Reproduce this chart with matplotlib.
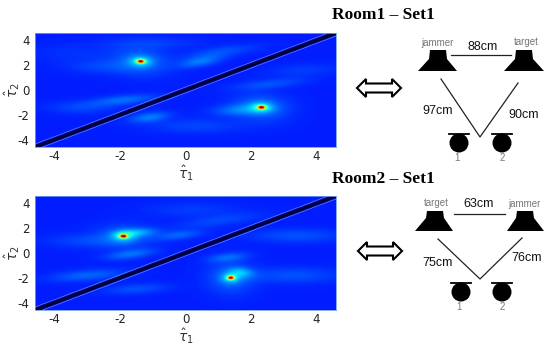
import matplotlib
matplotlib.use("Agg")
import matplotlib.pyplot as plt
import numpy as np
from matplotlib.patches import Circle, Polygon

W, H = 550, 346
ticks = [-4, -2, 0, 2, 4]
lim = 4.6
background = 0.155

# blobs: x, y, height, sigma x, sigma y, tilt (deg)
room1_blobs = [
    (-1.37, 2.32, 0.72, 0.08, 0.10, 5),
    (-1.37, 2.32, 0.14, 0.24, 0.30, 5),
    (-1.37, 2.32, 0.07, 0.60, 0.80, 10),
    (2.33, -1.40, 0.72, 0.08, 0.10, 5),
    (2.33, -1.40, 0.14, 0.24, 0.30, 5),
    (2.33, -1.40, 0.07, 0.60, 0.80, 10),
    (0.45, 2.30, 0.09, 0.50, 0.26, 30),
    (1.10, 3.10, 0.05, 0.80, 0.28, 20),
    (-1.90, -0.80, 0.08, 0.70, 0.26, 15),
    (-1.10, -2.20, 0.09, 0.45, 0.26, 25),
    (1.70, -1.60, 0.08, 0.60, 0.32, 10),
    (2.60, 0.50, 0.05, 0.80, 0.26, 15),
    (-2.50, 1.90, 0.04, 0.80, 0.40, 0),
    (-3.20, -1.40, 0.04, 0.70, 0.35, 0),
    (3.60, 1.60, 0.03, 0.80, 0.35, 10),
    (0.30, -2.90, 0.04, 1.00, 0.40, 0),
    (-1.00, 3.80, 0.03, 1.00, 0.35, 0),
    (-3.40, 3.00, 0.02, 1.00, 0.50, 0),
]
room2_blobs = [
    (-1.90, 1.36, 0.72, 0.08, 0.10, 0),
    (-1.90, 1.36, 0.14, 0.24, 0.30, 0),
    (-1.90, 1.36, 0.06, 0.60, 0.70, 0),
    (1.39, -2.00, 0.72, 0.07, 0.10, 0),
    (1.39, -2.00, 0.14, 0.20, 0.30, 0),
    (1.39, -2.00, 0.07, 0.50, 0.90, 0),
    (-1.50, 1.65, 0.11, 0.42, 0.24, 10),
    (1.72, -1.55, 0.10, 0.22, 0.30, 35),
    (-0.20, 1.45, 0.07, 0.50, 0.24, 20),
    (-1.70, -0.10, 0.08, 0.55, 0.24, 20),
    (-3.00, -1.80, 0.07, 0.80, 0.30, 12),
    (-1.50, -2.90, 0.05, 0.70, 0.28, 10),
    (1.30, -0.35, 0.07, 0.45, 0.24, 20),
    (3.40, 1.40, 0.05, 1.00, 0.38, 0),
    (-3.00, 1.00, 0.04, 0.90, 0.40, 0),
    (3.30, -1.80, 0.05, 1.00, 0.45, 0),
    (0.20, 3.50, 0.03, 1.00, 0.45, 0),
    (1.00, 2.60, 0.04, 1.00, 0.30, 20),
]


def make_field(blobs):
    grid = np.linspace(-lim, lim, 500)
    xx, yy = np.meshgrid(grid, grid)
    z = np.full(xx.shape, background)
    for x0, y0, h, sx, sy, tilt in blobs:
        t = np.deg2rad(tilt)
        u = (xx - x0) * np.cos(t) + (yy - y0) * np.sin(t)
        v = -(xx - x0) * np.sin(t) + (yy - y0) * np.cos(t)
        z += h * np.exp(-0.5 * (u / sx) ** 2 - 0.5 * (v / sy) ** 2)
    return z


def heat_panel(fig, box, blobs):
    x0, y0, x1, y1 = box
    ax = fig.add_axes([x0 / W, 1 - y1 / H, (x1 - x0) / W, (y1 - y0) / H])
    ax.imshow(make_field(blobs), cmap="jet", vmin=0, vmax=1, origin="lower",
              extent=[-lim, lim, -lim, lim], aspect="auto", interpolation="bilinear")
    diag = np.array([-lim, lim])
    ax.plot(diag, diag + 0.24, color="#8fb8f0", lw=0.5, ls=(0, (1, 0.6)))
    ax.plot(diag, diag - 0.24, color="#8fb8f0", lw=0.5, ls=(0, (1, 0.6)))
    ax.plot(diag, diag, color="#00003c", lw=2.7, solid_capstyle="butt")
    ax.set_xlim(-lim, lim)
    ax.set_ylim(-lim, lim)
    ax.set_xticks(ticks)
    ax.set_yticks(ticks)
    ax.set_xticklabels([str(t) for t in ticks])
    ax.set_yticklabels([str(t) for t in ticks])
    ax.tick_params(length=0, labelsize=8.5, colors="#222222")
    ax.tick_params(axis="x", pad=2)
    ax.tick_params(axis="y", pad=4)
    for s in ax.spines.values():
        s.set_color("#6f9fee")
        s.set_linewidth(0.6)
    ax.set_xlabel(r"$\hat{\tau}_1$", fontsize=10, labelpad=0.5, color="#333333")
    ax.set_ylabel(r"$\hat{\tau}_2$", fontsize=10, labelpad=-3, color="#333333")
    return ax


def speaker(ov, left, right, tl, tr, top, neck, bottom):
    ov.add_patch(Polygon([(tl, top), (tr, top), (tr + 1, neck), (right, bottom), (left, bottom), (tl - 1, neck)],
                         closed=True, color="black", lw=0))


def mic(ov, cx, cy, r, bar_l, bar_r, bar_y):
    ov.add_patch(Circle((cx, cy), r, color="black", lw=0))
    ov.plot([bar_l, bar_r], [bar_y, bar_y], color="black", lw=1.3)


def arrow(ov, x0, x1, y):
    pts = [(x0, y), (x0 + 9, y - 9), (x0 + 9, y - 4.5), (x1 - 9, y - 4.5), (x1 - 9, y - 9), (x1, y),
           (x1 - 9, y + 9), (x1 - 9, y + 4.5), (x0 + 9, y + 4.5), (x0 + 9, y + 9)]
    ov.add_patch(Polygon(pts, closed=True, facecolor="white", edgecolor="black", lw=1.5))


fig = plt.figure(figsize=(W / 100, H / 100), dpi=100, facecolor="white")
heat_panel(fig, (35, 33, 336, 147), room1_blobs)
heat_panel(fig, (35, 196, 336, 310), room2_blobs)

ov = fig.add_axes([0, 0, 1, 1])
ov.set_xlim(0, W)
ov.set_ylim(H, 0)
ov.axis("off")
ov.patch.set_alpha(0)

serif = "Liberation Serif"
ov.text(383, 15, "Room1 – Set1", family=serif, weight="bold", fontsize=12.5, ha="center", va="center")
ov.text(383, 179, "Room2 – Set1", family=serif, weight="bold", fontsize=12.5, ha="center", va="center")

sans = "Liberation Sans"
grey = "#777777"

# room 1 layout
speaker(ov, 418, 457, 430, 446, 50, 59, 71)
speaker(ov, 504, 544, 516, 532, 50, 59, 71)
ov.plot([451, 511], [55, 55], color="#222222", lw=0.9)
ov.plot([441, 480, 518], [79, 137, 83], color="#222222", lw=0.9)
mic(ov, 459, 143, 9.5, 449, 469, 134)
mic(ov, 502, 143, 9.5, 492, 512, 134)
arrow(ov, 357, 401, 88)
for x, y, s in [(483, 47, "88cm"), (438, 111, "97cm"), (524, 115, "90cm")]:
    ov.text(x, y, s, family=sans, fontsize=9, ha="center", va="center", color="#111111")
for x, y, s in [(437, 43, "jammer"), (526, 42, "target"), (457, 158, "1"), (502, 158, "2")]:
    ov.text(x, y, s, family=sans, fontsize=7, ha="center", va="center", color=grey)

# room 2 layout
speaker(ov, 415, 453, 427, 443, 211, 218, 231)
speaker(ov, 507, 544, 517, 533, 211, 218, 231)
ov.plot([454, 505], [214, 214], color="#222222", lw=0.9)
ov.plot([438, 480, 522], [239, 279, 238], color="#222222", lw=0.9)
mic(ov, 461, 292, 9.5, 451, 471, 283)
mic(ov, 502, 292, 9.5, 492, 512, 283)
arrow(ov, 358, 402, 251)
for x, y, s in [(479, 204, "63cm"), (438, 263, "75cm"), (527, 258, "76cm")]:
    ov.text(x, y, s, family=sans, fontsize=9, ha="center", va="center", color="#111111")
for x, y, s in [(436, 203, "target"), (524, 204, "jammer"), (459, 307, "1"), (502, 307, "2")]:
    ov.text(x, y, s, family=sans, fontsize=7, ha="center", va="center", color=grey)

plt.savefig("out.png", dpi=100)
